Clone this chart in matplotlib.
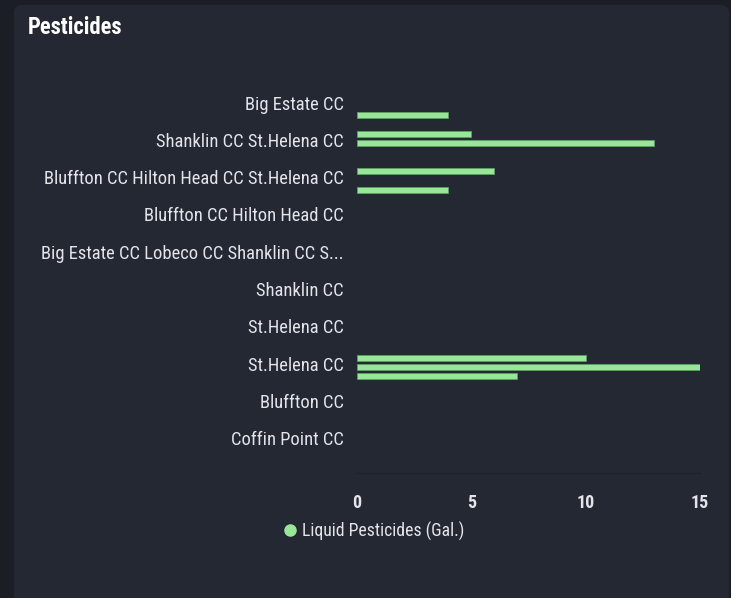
import matplotlib
matplotlib.use("Agg")
import matplotlib.pyplot as plt
import numpy as np
from matplotlib.patches import FancyBboxPatch
from matplotlib.lines import Line2D
from matplotlib import font_manager

names = {f.name for f in font_manager.fontManager.ttflist}
FONT = "Liberation Sans"
for cand in ["Liberation Sans Narrow", "Roboto Condensed", "Open Sans Condensed", "DejaVu Sans Condensed"]:
    if cand in names:
        FONT = cand
        break
plt.rcParams['font.family'] = [FONT, 'DejaVu Sans']

categories = [
    "Big Estate CC",
    "Shanklin CC St.Helena CC",
    "Bluffton CC Hilton Head CC St.Helena CC",
    "Bluffton CC Hilton Head CC",
    "Big Estate CC Lobeco CC Shanklin CC S...",
    "Shanklin CC",
    "St.Helena CC",
    "St.Helena CC",
    "Bluffton CC",
    "Coffin Point CC",
]
series_a = [0, 5, 6, 0, 0, 0, 0, 10, 0, 0]
series_b = [0, 13, 0, 0, 0, 0, 0, 15, 0, 0]
series_c = [4, 0, 4, 0, 0, 0, 0, 7, 0, 0]
legend_label = "Liquid Pesticides (Gal.)"
x_ticks = [0, 5, 10, 15]

W, H = 731, 598
OUTER = "#1b1e25"
CARD = "#232833"
TEXT = "#e2e5ea"
BAR = "#98e698"
EDGE = "#5f9f62"

fig = plt.figure(figsize=(W / 100, H / 100), dpi=100, facecolor=OUTER)
card = FancyBboxPatch((14 / W, -0.1), (729 - 14) / W, (H - 5) / H + 0.1,
                      boxstyle="round,pad=0,rounding_size=0.012",
                      transform=fig.transFigure, facecolor=CARD, edgecolor="none",
                      zorder=-10)
fig.patches.append(card)

fig.text(28 / W, 1 - 27.5 / H, "Pesticides", color="white", fontsize=16.3,
         fontweight="bold", ha="left", va="center", zorder=5)

ax_left, ax_right = 357, 700
ax_top, ax_bot = 69, 473
ax = fig.add_axes([ax_left / W, 1 - ax_bot / H, (ax_right - ax_left) / W, (ax_bot - ax_top) / H])
ax.set_zorder(5)
ax.set_facecolor("none")

y = np.arange(len(categories))
h = 0.16
off = 0.25
for vals, o in ((series_a, -off), (series_b, 0), (series_c, off)):
    v = np.array(vals, dtype=float)
    mask = v > 0
    ax.barh(y[mask] + o, v[mask], height=h, color=BAR, edgecolor=EDGE, linewidth=0.6)

ax.set_xlim(0, 15)
sp = 37.3
ax.set_ylim((ax_bot - 106) / sp, (ax_top - 106) / sp)
ax.set_yticks(y - 0.04)
ax.set_yticklabels(categories)
ax.set_xticks(x_ticks)
ax.tick_params(axis="y", length=0, pad=9.4, labelsize=13.3, labelcolor=TEXT)
ax.tick_params(axis="x", length=0, pad=15, labelsize=13, labelcolor=TEXT)
for lab in ax.get_xticklabels():
    lab.set_fontweight("bold")
for lab in ax.get_yticklabels():
    lab.set_va("center")
for s in ("top", "right", "left"):
    ax.spines[s].set_visible(False)
ax.spines["bottom"].set_color("#1c2029")
ax.spines["bottom"].set_linewidth(1.0)
ax.grid(False)

handle = Line2D([], [], marker="o", linestyle="none", markersize=8,
                markerfacecolor=BAR, markeredgecolor=BAR)
leg = fig.legend([handle], [legend_label], loc="center", bbox_to_anchor=(373 / W, 1 - 531 / H),
                 frameon=False, fontsize=12.7, handletextpad=0.2, handlelength=1.0,
                 borderpad=0)
leg.set_zorder(6)
for t in leg.get_texts():
    t.set_color(TEXT)

fig.savefig("out.png", dpi=100, facecolor=OUTER)
